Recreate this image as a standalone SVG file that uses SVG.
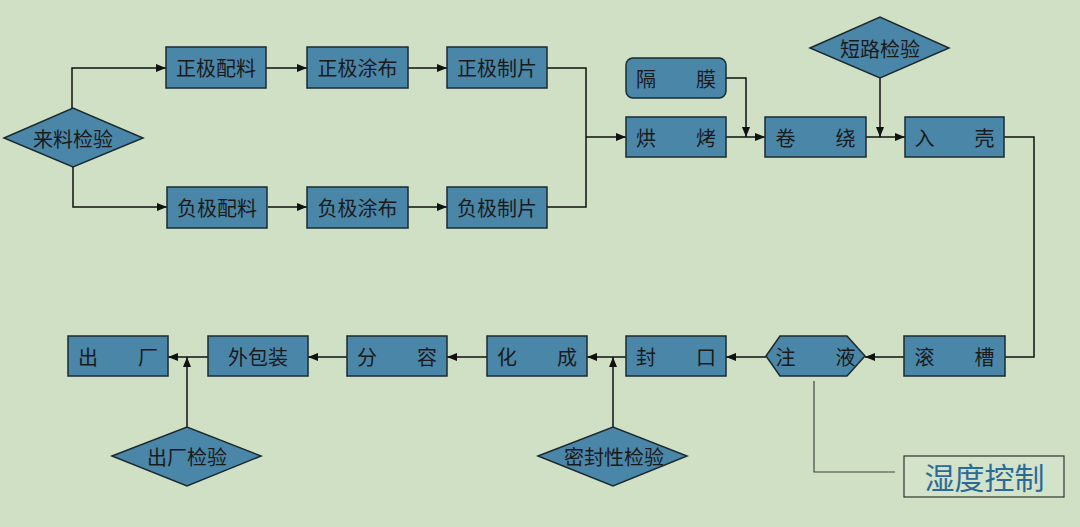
<svg xmlns="http://www.w3.org/2000/svg" width="1080" height="527" viewBox="0 0 1080 527">
<style>
.bg{fill:#cfe0c4}
.n{fill:#4a86a8;stroke:#1c2a30;stroke-width:1.5}
.t{font-family:"Noto Sans CJK SC","Noto Sans CJK JP",sans-serif;font-size:20px;fill:#1a1a1a;text-anchor:middle;dominant-baseline:central}
.c{fill:none;stroke:#111;stroke-width:1.5}
.h{fill:none;stroke:#444;stroke-width:1.2}
.hb{fill:#d3e3c9;stroke:#333;stroke-width:1.2}
.ht{font-family:"Noto Sans CJK SC",sans-serif;font-size:30px;fill:#2a6a98;text-anchor:middle;dominant-baseline:central}
</style>
<defs>
<marker id="ar" markerUnits="userSpaceOnUse" markerWidth="10" markerHeight="8" refX="10" refY="4" orient="auto">
<path d="M0,0 L10,4 L0,8 z" fill="#111"/>
</marker>
</defs>
<rect class="bg" x="0" y="0" width="1080" height="527"/>
<g id="connectors">
<path class="c" d="M72,108 V68 H166" marker-end="url(#ar)"/>
<path class="c" d="M73,167 V207 H167" marker-end="url(#ar)"/>
<path class="c" d="M266,68 H307" marker-end="url(#ar)"/>
<path class="c" d="M408,68 H447" marker-end="url(#ar)"/>
<path class="c" d="M268,207 H307" marker-end="url(#ar)"/>
<path class="c" d="M408,207 H447" marker-end="url(#ar)"/>
<path class="c" d="M547,68 H586 V207 H547"/>
<path class="c" d="M586,137 H626" marker-end="url(#ar)"/>
<path class="c" d="M726,78 H746 V137" marker-end="url(#ar)"/>
<path class="c" d="M726,137 H765" marker-end="url(#ar)"/>
<path class="c" d="M880,78 V137" marker-end="url(#ar)"/>
<path class="c" d="M866,137 H905" marker-end="url(#ar)"/>
<path class="c" d="M1004,137 H1034 V357 H1005"/>
<path class="c" d="M904,357 H865" marker-end="url(#ar)"/>
<path class="c" d="M766,357 H726" marker-end="url(#ar)"/>
<path class="c" d="M626,357 H587" marker-end="url(#ar)"/>
<path class="c" d="M613,427 V357" marker-end="url(#ar)"/>
<path class="c" d="M487,357 H447" marker-end="url(#ar)"/>
<path class="c" d="M347,357 H308" marker-end="url(#ar)"/>
<path class="c" d="M208,357 H168" marker-end="url(#ar)"/>
<path class="c" d="M187,427 V357" marker-end="url(#ar)"/>
<path class="h" d="M814,381 V472 H895"/>
</g>
<g id="n-laoliao"><polygon class="n" points="4,138 73,108 143,138 73,167"/><text class="t" x="73" y="138">来料检验</text></g>
<g id="n-zjpl"><rect class="n" x="166" y="47" width="100" height="41"/><text class="t" x="216" y="67.5">正极配料</text></g>
<g id="n-zjtb"><rect class="n" x="307" y="47" width="101" height="41"/><text class="t" x="357.5" y="67.5">正极涂布</text></g>
<g id="n-zjzp"><rect class="n" x="447" y="47" width="100" height="41"/><text class="t" x="497" y="67.5">正极制片</text></g>
<g id="n-fjpl"><rect class="n" x="167" y="187" width="100" height="41"/><text class="t" x="217" y="207.5">负极配料</text></g>
<g id="n-fjtb"><rect class="n" x="307" y="187" width="101" height="41"/><text class="t" x="357.5" y="207.5">负极涂布</text></g>
<g id="n-fjzp"><rect class="n" x="447" y="187" width="100" height="41"/><text class="t" x="497" y="207.5">负极制片</text></g>
<g id="n-gemo"><rect class="n" x="626" y="58" width="100" height="40" rx="7"/><text class="t" x="676" y="78">隔　　膜</text></g>
<g id="n-hongkao"><rect class="n" x="626" y="117" width="100" height="40"/><text class="t" x="676" y="137">烘　　烤</text></g>
<g id="n-juanrao"><rect class="n" x="765" y="117" width="101" height="40"/><text class="t" x="815.5" y="137">卷　　绕</text></g>
<g id="n-duanlu"><polygon class="n" points="810,48 880,17 949,48 880,78"/><text class="t" x="880" y="48">短路检验</text></g>
<g id="n-ruke"><rect class="n" x="905" y="117" width="99" height="40"/><text class="t" x="954.5" y="137">入　　壳</text></g>
<g id="n-guncao"><rect class="n" x="904" y="336" width="101" height="40"/><text class="t" x="954.5" y="356">滚　　槽</text></g>
<g id="n-zhuye"><polygon class="n" points="766,356 780,336 847,336 865,356 847,376 780,376"/><text class="t" x="815.5" y="356">注　　液</text></g>
<g id="n-fengkou"><rect class="n" x="626" y="336" width="100" height="40"/><text class="t" x="676" y="356">封　　口</text></g>
<g id="n-huacheng"><rect class="n" x="487" y="336" width="100" height="40"/><text class="t" x="537" y="356">化　　成</text></g>
<g id="n-fenrong"><rect class="n" x="347" y="336" width="100" height="40"/><text class="t" x="397" y="356">分　　容</text></g>
<g id="n-waibaozhuang"><rect class="n" x="208" y="336" width="100" height="40"/><text class="t" x="258" y="356">外包装</text></g>
<g id="n-chuchang"><rect class="n" x="68" y="336" width="100" height="40"/><text class="t" x="118" y="356">出　　厂</text></g>
<g id="n-chuchangjy"><polygon class="n" points="112,456 187,427 261,456 187,486"/><text class="t" x="187" y="456">出厂检验</text></g>
<g id="n-mifeng"><polygon class="n" points="538,456 613,427 687,456 613,486"/><text class="t" x="614" y="456">密封性检验</text></g>
<g id="n-shidu"><rect class="hb" x="904" y="456" width="160" height="41"/><text class="ht" x="984.5" y="476">湿度控制</text></g>
</svg>
